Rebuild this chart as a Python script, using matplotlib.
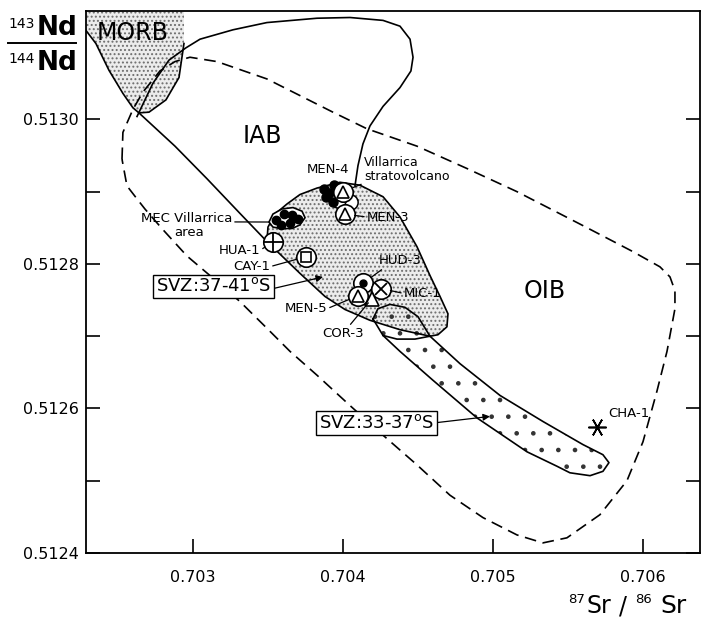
import matplotlib.pyplot as plt
from matplotlib.patches import Polygon
from matplotlib.lines import Line2D

# ---- field outlines (87Sr/86Sr, 143Nd/144Nd) ----
morb_sr = [0.702287, 0.702287, 0.702353, 0.70244, 0.702533, 0.7026, 0.70264,
           0.702707, 0.70282, 0.702907, 0.70294, 0.70294]
morb_nd = [0.51318, 0.513123, 0.513105, 0.513068, 0.513036, 0.513016, 0.513009,
           0.51301, 0.513027, 0.513058, 0.513105, 0.51318]

# IAB outline: upper arc and lower edge
iab_arc_sr = [0.702627, 0.702733, 0.70284, 0.702953, 0.703047,
              0.703267, 0.703493, 0.703827, 0.704047, 0.704267, 0.70438, 0.704447,
              0.704467, 0.704453, 0.70438, 0.704267, 0.70418, 0.704133, 0.7041, 0.70408]
iab_arc_nd = [0.513004, 0.51305, 0.513082, 0.513099, 0.513111,
              0.513124, 0.513134, 0.51314, 0.513141, 0.513137, 0.513129, 0.513111,
              0.513086, 0.513067, 0.513044, 0.513018, 0.512991, 0.512966, 0.512936, 0.512908]
iab_low_sr = [0.70264, 0.70288, 0.703093, 0.703313, 0.703493, 0.703713, 0.70388,
              0.704013, 0.70418, 0.70438, 0.70458]
iab_low_nd = [0.513009, 0.512963, 0.512918, 0.51287, 0.512831, 0.512787, 0.512755,
              0.512737, 0.512722, 0.512709, 0.5127]

# SVZ 37-41 S field (upper arc, closed by the IAB lower edge)
svz41_sr = [0.703493, 0.7035, 0.703547, 0.703627, 0.703713, 0.703827, 0.70398,
            0.704113, 0.704267, 0.70438, 0.704493, 0.70458, 0.704647, 0.7047,
            0.704693, 0.704633, 0.70458, 0.70438, 0.70418, 0.704013, 0.70388,
            0.703713]
svz41_nd = [0.512831, 0.512851, 0.512869, 0.512883, 0.512896, 0.512905, 0.512913,
            0.512909, 0.512893, 0.512865, 0.512824, 0.512784, 0.512755, 0.512731,
            0.512713, 0.512702, 0.5127, 0.512709, 0.512722, 0.512737, 0.512755,
            0.512787]

# SVZ 33-37 S field (band)
svz37_sr = [0.7042, 0.704233, 0.704313, 0.704413, 0.7045, 0.70458, 0.70478,
            0.705047, 0.705333, 0.7056, 0.705733, 0.705773, 0.705733, 0.705647,
            0.705513, 0.705427, 0.705227, 0.704893, 0.7046, 0.70438, 0.704267]
svz37_nd = [0.512724, 0.512738, 0.512744, 0.51274, 0.512727, 0.5127, 0.512662,
            0.512618, 0.512582, 0.51255, 0.512536, 0.512525, 0.512513, 0.512507,
            0.512511, 0.51252, 0.51254, 0.512587, 0.512639, 0.512679, 0.512701]
svz37_inner_sr = [0.704267, 0.70436, 0.70448, 0.70458]
svz37_inner_nd = [0.512701, 0.512696, 0.512696, 0.5127]

# OIB field (dashed)
oib_sr = [0.702527, 0.702533, 0.7026, 0.702667, 0.70278, 0.70288, 0.70298, 0.70316,
          0.703493, 0.703933, 0.70416, 0.704493, 0.704827, 0.70516, 0.7056,
          0.705933, 0.706113, 0.70618, 0.706213, 0.706213, 0.70616, 0.706093,
          0.706, 0.705893, 0.705713, 0.705493, 0.705333, 0.70516, 0.704933,
          0.704713, 0.704493, 0.704267, 0.704047, 0.703827, 0.703647, 0.703493,
          0.703313, 0.703113, 0.70296, 0.702793, 0.70268, 0.702627, 0.70256]
oib_nd = [0.512945, 0.512982, 0.513014, 0.513038, 0.513067, 0.51308, 0.513086,
          0.51308, 0.513056, 0.51301, 0.512987, 0.512963, 0.512932, 0.5129,
          0.512853, 0.512817, 0.512796, 0.512782, 0.512763, 0.512738, 0.512679,
          0.512624, 0.512554, 0.5125, 0.512453, 0.512421, 0.512414, 0.512425,
          0.512449, 0.51248, 0.512522, 0.512563, 0.512604, 0.512646, 0.512679,
          0.512711, 0.512748, 0.512784, 0.512811, 0.512849, 0.512876, 0.51289,
          0.512908]

# MEC Villarrica area
mec_field_sr = [0.703507, 0.703533, 0.703593, 0.703667, 0.703727, 0.703747,
                0.703713, 0.70366, 0.703587, 0.703533]
mec_field_nd = [0.512858, 0.512869, 0.512876, 0.512878, 0.512873, 0.512864,
                0.512854, 0.512849, 0.512849, 0.512851]
mec_sr = [0.703553, 0.703607, 0.70366, 0.703587, 0.703647, 0.7037]
mec_nd = [0.512861, 0.512869, 0.512868, 0.512854, 0.512857, 0.512862]

# Villarrica stratovolcano
vill_sr = [0.703873, 0.703887, 0.703933, 0.70394, 0.703907]
vill_nd = [0.512904, 0.512893, 0.512886, 0.512909, 0.512898]
vill_open_sr = [0.704047, 0.703967]
vill_open_nd = [0.512886, 0.512888]

# individual samples
samples = ['HUA-1', 'CAY-1', 'MEN-4', 'MEN-3', 'HUD-3', 'MIC-1', 'MEN-5', 'COR-3', 'CHA-1']
sample_sr = [0.703533, 0.703753, 0.704, 0.704013, 0.704133, 0.704253, 0.7041, 0.704193, 0.705693]
sample_nd = [0.512831, 0.51281, 0.5129, 0.512869, 0.512773, 0.512766, 0.512756, 0.512752, 0.512574]

x_ticks = [0.703, 0.704, 0.705, 0.706]
x_labels = ['0.703', '0.704', '0.705', '0.706']
y_ticks = [0.5124, 0.5125, 0.5126, 0.5127, 0.5128, 0.5129, 0.5130]
y_labels = ['0.5124', '', '0.5126', '', '0.5128', '', '0.5130']

plt.rcParams['hatch.linewidth'] = 0.9

fig = plt.figure(figsize=(7.02, 6.2), dpi=100)
ax = fig.add_axes([86 / 702, 1 - 553 / 620, 614 / 702, 542 / 620])
ax.set_xlim(0.702287, 0.70638)
ax.set_ylim(0.5124, 0.51315)


def closed(a):
    return list(a) + [a[0]]


def fill(sr, nd, hatch, color, face='none'):
    ax.add_patch(Polygon(list(zip(sr, nd)), closed=True, facecolor=face,
                         edgecolor=color, lw=0, hatch=hatch, zorder=1))


# fills
fill(morb_sr, morb_nd, '....', '#6e6e6e', '#ececec')
fill(svz41_sr, svz41_nd, '....', '#6e6e6e', '#ececec')
fill(svz37_sr, svz37_nd, '.', '#333333')

# outlines
lw = 1.2
ax.plot(morb_sr[1:-1], morb_nd[1:-1], color='k', lw=lw, zorder=2)
ax.plot(iab_arc_sr, iab_arc_nd, color='k', lw=lw, zorder=2)
ax.plot(iab_low_sr, iab_low_nd, color='k', lw=lw, zorder=2)
ax.plot(svz41_sr[:17], svz41_nd[:17], color='k', lw=lw, zorder=2)
ax.plot(closed(svz37_sr), closed(svz37_nd), color='k', lw=lw, zorder=2)
ax.plot(svz37_inner_sr, svz37_inner_nd, color='k', lw=lw, zorder=2)
ax.plot(closed(oib_sr), closed(oib_nd), color='k', lw=1.2,
        linestyle=(0, (7, 4)), zorder=2)

# MEC Villarrica area
ax.add_patch(Polygon(list(zip(mec_field_sr, mec_field_nd)), closed=True,
                     facecolor='white', edgecolor='k', lw=1.2, zorder=3))
ax.plot(mec_sr, mec_nd, 'o', ms=6, color='k', zorder=4)

# Villarrica stratovolcano cluster
ax.plot(vill_open_sr, vill_open_nd, 'o', ms=11, mfc='white', mec='k', mew=1.1, zorder=3)
ax.plot(vill_sr, vill_nd, 'o', ms=6.5, color='k', zorder=4)

# sample symbols: outer circle + inner symbol
circ = dict(marker='o', ms=14, mfc='white', mec='k', mew=1.2, ls='none')
inner = {
    'HUA-1': dict(marker='+', ms=14, mec='k', mew=1.3),
    'CAY-1': dict(marker='s', ms=6.5, mfc='white', mec='k', mew=1.2),
    'MEN-4': dict(marker='^', ms=8.5, mfc='white', mec='k', mew=1.2),
    'MEN-3': dict(marker='^', ms=8.5, mfc='white', mec='k', mew=1.2),
    'HUD-3': dict(marker='o', ms=5, mfc='k', mec='k'),
    'MIC-1': dict(marker='x', ms=9, mec='k', mew=1.3),
    'MEN-5': dict(marker='^', ms=8.5, mfc='white', mec='k', mew=1.2),
}
for name, sr, nd in zip(samples, sample_sr, sample_nd):
    if name in inner:
        ax.plot(sr, nd, zorder=5, **circ)
        ax.plot(sr, nd, ls='none', zorder=6, **inner[name])
    elif name == 'COR-3':
        ax.plot(sr, nd, marker='^', ms=10, mfc='white', mec='k', mew=1.2, zorder=6)
    else:
        ax.plot(sr, nd, marker=(6, 2, 90), ms=13, mec='k', mew=1.2, zorder=6)

# sample labels: (dx, dy) in pixels, alignment, leader start on text box
label_pos = {
    'HUA-1': (-13, -9, 'right', (1, 0.5)),
    'CAY-1': (-36, -10, 'right', (1, 0.5)),
    'MEN-4': (-15, 22, 'center', None),
    'MEN-3': (22, -3, 'left', (0, 0.5)),
    'HUD-3': (37, 23, 'center', (0.2, 0.1)),
    'MIC-1': (23, -5, 'left', (0, 0.5)),
    'MEN-5': (-31, -13, 'right', (1, 0.5)),
    'COR-3': (-29, -35, 'center', (0.6, 0.9)),
    'CHA-1': (11, 14, 'left', None),
}
for name, sr, nd in zip(samples, sample_sr, sample_nd):
    dx, dy, ha, rel = label_pos[name]
    arrow = None
    if rel is not None:
        arrow = dict(arrowstyle='-', color='k', lw=0.9, shrinkA=0,
                     shrinkB=4 if name == 'COR-3' else 7, relpos=rel)
    ax.annotate(name, xy=(sr, nd), xytext=(dx, dy), textcoords='offset pixels',
                ha=ha, va='center', fontsize=9.5, zorder=7, arrowprops=arrow)

ax.annotate('MEC Villarrica', xy=(mec_field_sr[0], mec_field_nd[0]),
            xytext=(-37, 4), textcoords='offset pixels', ha='right', va='center',
            fontsize=9.5, arrowprops=dict(arrowstyle='-', color='k', lw=0.9,
                                          shrinkA=0, shrinkB=0, relpos=(1, 0.2)))
ax.annotate('area', xy=(mec_field_sr[0], mec_field_nd[0]), xytext=(-80, -10),
            textcoords='offset pixels', ha='center', va='center', fontsize=9.5)
ax.annotate('Villarrica\nstratovolcano', xy=(sample_sr[2], sample_nd[2]),
            xytext=(21, 22), textcoords='offset pixels', ha='left', va='center',
            fontsize=9, linespacing=1.1,
            arrowprops=dict(arrowstyle='-', color='k', lw=0.9, shrinkA=0,
                            shrinkB=8, relpos=(0, 0)))

# field names
ax.text(0.7026, 0.513119, 'MORB', fontsize=17, ha='center', va='center', zorder=7)
ax.text(0.70346, 0.512977, 'IAB', fontsize=17, ha='center', va='center')
ax.text(0.705347, 0.512763, 'OIB', fontsize=17, ha='center', va='center')

# boxed SVZ labels with arrows
box = dict(boxstyle='square,pad=0.15', fc='white', ec='k', lw=1)
ax.annotate(r'SVZ:37-41$^{\rm o}$S', xy=(0.703867, 0.512782),
            xytext=(0.703137, 0.512769), ha='center', va='center', fontsize=13,
            bbox=box, zorder=7,
            arrowprops=dict(arrowstyle='-|>', color='k', lw=0.9, mutation_scale=10,
                            shrinkA=0, shrinkB=0, relpos=(1, 0.35)))
ax.annotate(r'SVZ:33-37$^{\rm o}$S', xy=(0.70498, 0.512589),
            xytext=(0.704223, 0.51258), ha='center', va='center', fontsize=13,
            bbox=box, zorder=7,
            arrowprops=dict(arrowstyle='-|>', color='k', lw=0.9, mutation_scale=10,
                            shrinkA=0, shrinkB=0, relpos=(1, 0.5)))

# axes
ax.set_xticks(x_ticks)
ax.set_xticklabels(x_labels)
ax.set_yticks(y_ticks)
ax.set_yticklabels(y_labels)
ax.tick_params(direction='in', length=10, width=1.2, labelsize=11.5,
               right=True, top=False)
ax.tick_params(axis='x', pad=12)
ax.tick_params(axis='y', pad=5)
for s in ax.spines.values():
    s.set_linewidth(1.3)


def fy(py):
    return 1 - py / 620


# y label as a fraction
fig.text(8 / 702, fy(28), '143', fontsize=10, va='baseline')
fig.text(37 / 702, fy(35), 'Nd', fontsize=19, fontweight='bold', va='baseline')
fig.add_artist(Line2D([8 / 702, 76 / 702], [fy(43), fy(43)], color='k', lw=1.4))
fig.text(8 / 702, fy(63), '144', fontsize=10, va='baseline')
fig.text(37 / 702, fy(70), 'Nd', fontsize=19, fontweight='bold', va='baseline')

# x label
fig.text(568 / 702, fy(603), '87', fontsize=9.5, va='baseline')
fig.text(587 / 702, fy(613), 'Sr', fontsize=17, va='baseline')
fig.text(619 / 702, fy(613), '/', fontsize=17, va='baseline')
fig.text(635 / 702, fy(603), '86', fontsize=9.5, va='baseline')
fig.text(660 / 702, fy(613), 'Sr', fontsize=18, va='baseline')

fig.savefig('out.png', dpi=100, facecolor='white')
